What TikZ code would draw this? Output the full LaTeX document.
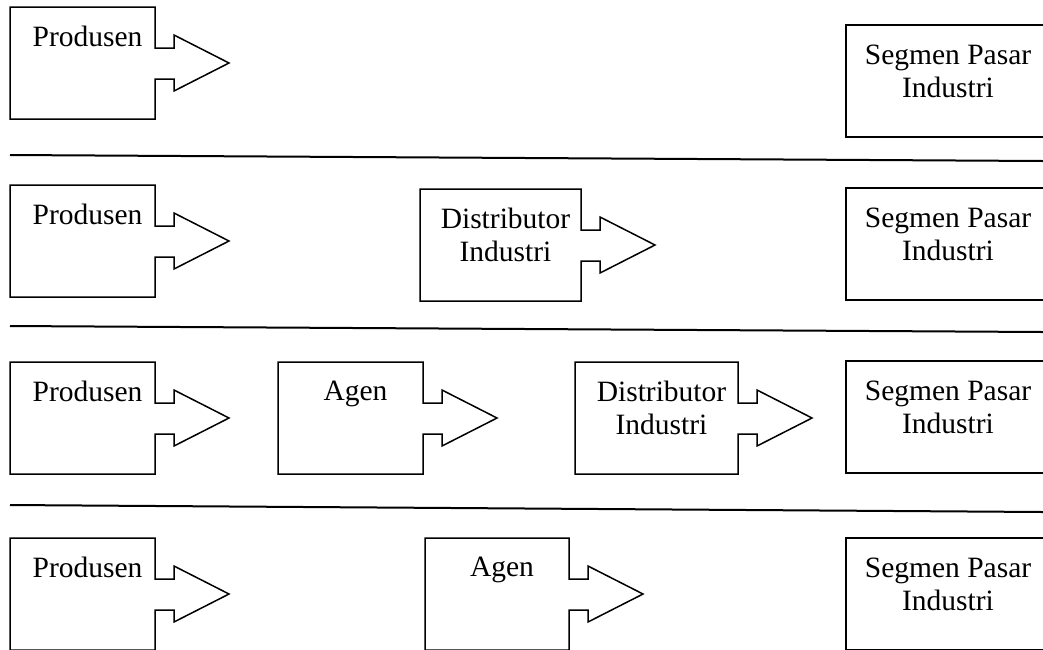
\documentclass[tikz,border=0pt]{standalone}
\usepackage{fontspec}
\setmainfont{Liberation Serif}
\usetikzlibrary{calc,positioning}
\tikzstyle{chanbody} = [anchor=north west, minimum height=112pt, inner sep=0pt, outer sep=0pt]
\tikzstyle{chanline} = [draw, line width=1.5pt, line join=miter]
\tikzstyle{market} = [draw, line width=1.5pt, anchor=north west, minimum width=204pt, minimum height=112pt, inner sep=0pt, outer sep=0pt]
\tikzstyle{divider} = [draw, line width=2pt]
\tikzstyle{chantext} = [anchor=north, inner sep=0pt, align=center, font=\fontsize{29.5}{33}\selectfont]
\newcommand{\channel}[4]{%
% Box body, top-left corner at #2
\path #2 node (#1) [chanbody, minimum width=#3] {};
% Outline of the box with the arrow on its right side
\path [chanline] (#1.north west) -- (#1.north east) -- ($(#1.north east)+(0,41)$) -- ++(19,0) -- ++(0,-13) -- ++(55,28) -- ++(-55,28) -- ++(0,-12) -- ++(-19,0) -- (#1.south east) -- (#1.south west) -- cycle;
% Write text
\node (#1-t) [chantext] at ($(#1.north)+(5,19)$) {#4};}
\newcommand{\market}[2]{%
\path #2 node (#1) [market] {};
\node (#1-t) [chantext] at ($(#1.north)+(0,20)$) {Segmen Pasar\\Industri};}

\begin{document}
\begin{tikzpicture}[x=1pt,y=-1pt]
\useasboundingbox (0,0) rectangle (1043,649);
\clip (0,0) rectangle (1043,649);
% Row 1
\channel{p1}{(10,7)}{145pt}{Produsen}
\market{s1}{(846,25)}
\path [divider] (10,155) -- (1043,161);
% Row 2
\channel{p2}{(10,185)}{145pt}{Produsen}
\channel{d2}{(420,189)}{161pt}{Distributor\\Industri}
\market{s2}{(846,188)}
\path [divider] (10,326) -- (1043,332);
% Row 3
\channel{p3}{(10,362)}{145pt}{Produsen}
\channel{a3}{(278,362)}{145pt}{Agen}
\channel{d3}{(575,362)}{163pt}{Distributor\\Industri}
\market{s3}{(846,361)}
\path [divider] (10,505) -- (1043,512);
% Row 4
\channel{p4}{(10,538)}{145pt}{Produsen}
\channel{a4}{(425,538)}{144pt}{Agen}
\market{s4}{(846,538)}
\end{tikzpicture}
\end{document}
